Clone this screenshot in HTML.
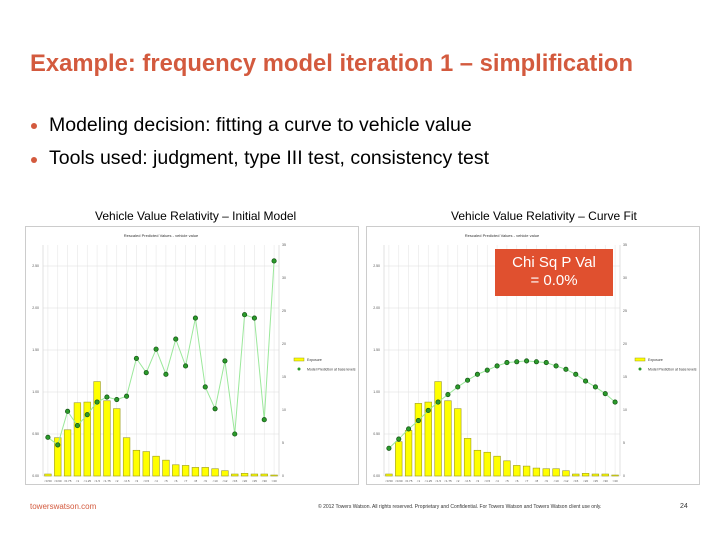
<!DOCTYPE html>
<html><head><meta charset="utf-8">
<style>
body{margin:0;width:720px;height:540px;background:#fff;font-family:"Liberation Sans",sans-serif;position:relative;overflow:hidden}
.abs{position:absolute;white-space:nowrap}
#title{left:30px;top:50px;font-size:23.8px;font-weight:bold;color:#d35a3e}
.bul{left:49px;font-size:19.5px;color:#000}
.dot{position:absolute;width:6px;height:6px;border-radius:50%;background:#d35a3e}
.sub{font-size:12px;color:#000;top:209px}
.chart{position:absolute;top:226px;width:334px;height:259px;border:1px solid #ccc;box-sizing:border-box}
#chi{left:495px;top:249px;width:118px;height:47px;background:#e0502f;color:#fff;font-size:15px;text-align:center;line-height:18px;padding-top:5px;box-sizing:border-box}
</style></head><body>
<div id="title" class="abs">Example: frequency model iteration 1 – simplification</div>
<div class="dot" style="left:31px;top:123px"></div>
<div class="abs bul" style="top:114px">Modeling decision: fitting a curve to vehicle value</div>
<div class="dot" style="left:31px;top:157px"></div>
<div class="abs bul" style="top:147px">Tools used: judgment, type III test, consistency test</div>
<div class="abs sub" style="left:95px">Vehicle Value Relativity – Initial Model</div>
<div class="abs sub" style="left:451px">Vehicle Value Relativity – Curve Fit</div>
<div class="chart" style="left:25px" id="c1"></div>
<div class="chart" style="left:366px" id="c2"></div>
<div id="chi" class="abs">Chi Sq P Val<br>= 0.0%</div>
<div class="abs" style="left:30px;top:502px;font-size:8px;color:#d35a3e">towerswatson.com</div>
<div class="abs" style="left:318px;top:504px;font-size:5px;color:#333">© 2012 Towers Watson. All rights reserved. Proprietary and Confidential. For Towers Watson and Towers Watson client use only.</div>
<div class="abs" style="left:680px;top:503px;font-size:7px;color:#333">24</div>
<script>
const categories=["<0.50","<0.60","<0.75","<1","<1.25","<1.5","<1.75","<2","<2.5","<3","<3.5","<4","<5","<6","<7","<8","<9","<10","<12","<15","<20","<25","<30",">30"];
const exposure1=[0.3,5.8,7.0,11.1,11.2,14.3,11.4,10.2,5.8,3.9,3.7,3.0,2.4,1.7,1.6,1.3,1.3,1.1,0.8,0.3,0.4,0.3,0.3,0.15];
const pred1=[0.46,0.37,0.77,0.60,0.73,0.88,0.94,0.91,0.95,1.40,1.23,1.51,1.21,1.63,1.31,1.88,1.06,0.80,1.37,0.50,1.92,1.88,0.67,2.56];
const exposure2=[0.3,5.2,6.9,11.0,11.2,14.3,11.4,10.2,5.7,3.9,3.6,3.0,2.3,1.6,1.5,1.2,1.1,1.1,0.8,0.3,0.4,0.3,0.3,0.15];
const pred2=[0.33,0.44,0.56,0.66,0.78,0.88,0.97,1.06,1.14,1.21,1.26,1.31,1.35,1.36,1.37,1.36,1.35,1.31,1.27,1.21,1.13,1.06,0.98,0.88];
const leftTicks=[0,0.5,1.0,1.5,2.0,2.5];
const rightTicks=[0,5,10,15,20,25,30,35];
const NS="http://www.w3.org/2000/svg";
function draw(id,exposure,pred,offset){
  const box=document.getElementById(id);
  const svg=document.createElementNS(NS,"svg");
  svg.setAttribute("width","334");svg.setAttribute("height","259");
  
  
  box.appendChild(svg);
  const L=17+offset,R=253+offset,T=18,B=249;
  const yL=v=>B-v/2.75*(B-T), yR=v=>B-v/35*(B-T);
  const step=(R-L)/categories.length;
  const xc=i=>L+step*(i+0.5);
  function el(tag,attrs,name){const e=document.createElementNS(NS,tag);for(const k in attrs)e.setAttribute(k,attrs[k]);
    
    
    svg.appendChild(e);return e;}
  const t=el("text",{x:(L+R)/2,y:10,"font-size":4,"text-anchor":"middle","font-family":"Liberation Sans",fill:"#333"},"chart-title");t.textContent="Rescaled Predicted Values - vehicle value";
  categories.forEach((c,i)=>{el("line",{x1:xc(i),x2:xc(i),y1:T,y2:B,stroke:"#e6e6e6","stroke-width":0.6},"vertical-gridline");
    const tx=el("text",{x:xc(i),y:B+6,"font-size":3,"text-anchor":"middle",fill:"#555"},"x-tick-label");tx.textContent=c;});
  leftTicks.forEach(v=>{el("line",{x1:L,x2:R,y1:yL(v),y2:yL(v),stroke:"#ddd","stroke-width":0.6},"horizontal-gridline");
    const tx=el("text",{x:L-4,y:yL(v)+1,"font-size":3.5,"text-anchor":"end",fill:"#555"},"left-tick-label");tx.textContent=v.toFixed(2);});
  rightTicks.forEach(v=>{const tx=el("text",{x:R+3,y:yR(v)+1,"font-size":3.5,fill:"#555"},"right-tick-label");tx.textContent=v;});
  el("line",{x1:L,x2:L,y1:T,y2:B,stroke:"#ccc","stroke-width":0.6},"left-axis");
  el("line",{x1:R,x2:R,y1:T,y2:B,stroke:"#ccc","stroke-width":0.6},"right-axis");
  exposure.forEach((v,i)=>{el("rect",{x:xc(i)-step*0.34,y:yR(v),width:step*0.68,height:B-yR(v),fill:"#ffff00",stroke:"#9a9a20","stroke-width":0.6},"exposure-bar");});
  el("polyline",{points:pred.map((v,i)=>xc(i)+","+yL(v)).join(" "),fill:"none",stroke:"#9be89b","stroke-width":1},"prediction-line");
  pred.forEach((v,i)=>{el("circle",{cx:xc(i),cy:yL(v),r:2.2,fill:"#2a9a2a",stroke:"#145214","stroke-width":0.7},"prediction-point");});
  el("rect",{x:R+15,y:131,width:10,height:3,fill:"#ffff00",stroke:"#9a9a20","stroke-width":0.5},"legend-exposure-swatch");
  let lt=el("text",{x:R+28,y:134,"font-size":3.5,fill:"#333"},"legend-exposure");lt.textContent="Exposure";
  el("circle",{cx:R+20,cy:142,r:1.5,fill:"#2a9a2a"},"legend-prediction-marker");
  lt=el("text",{x:R+28,y:143.5,"font-size":3.5,fill:"#333"},"legend-prediction");lt.textContent="Model Prediction at base levels";
}
draw("c1",exposure1,pred1,0);
draw("c2",exposure2,pred2,0);
</script>
</body></html>
